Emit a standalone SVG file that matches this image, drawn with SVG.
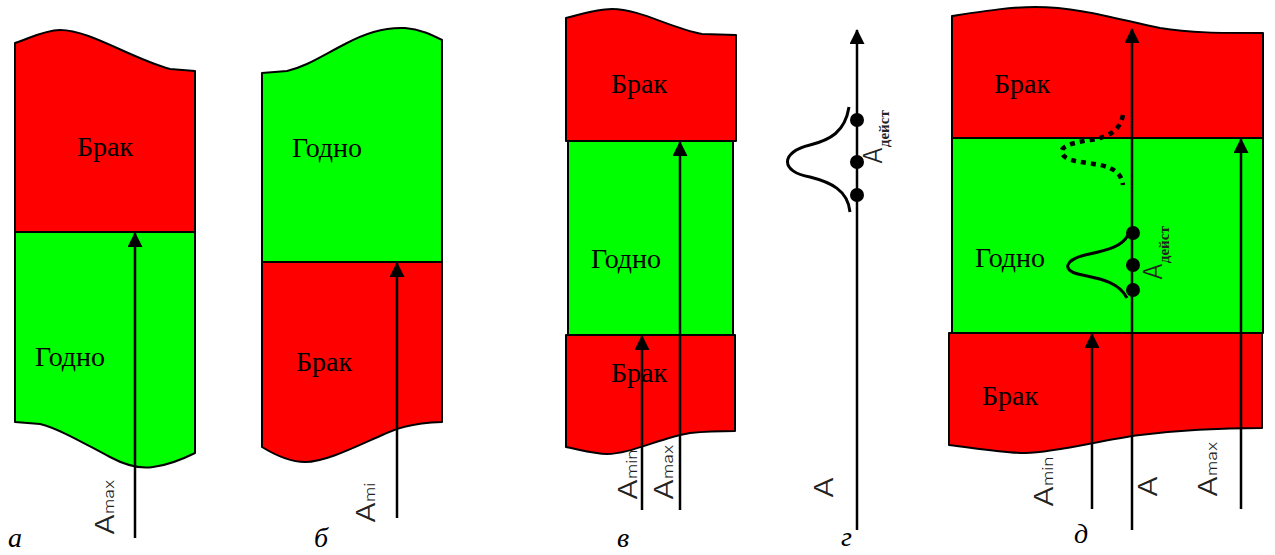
<svg xmlns="http://www.w3.org/2000/svg" width="1275" height="555" viewBox="0 0 1275 555">
<style>
.red{fill:#ff0000;stroke:#000;stroke-width:2;stroke-linejoin:round}
.grn{fill:#00ff00;stroke:#000;stroke-width:2;stroke-linejoin:round}
.zt{font-family:"Liberation Serif","Times New Roman",serif;font-size:28px;fill:#000;text-anchor:middle}
.pl{font-family:"Liberation Serif","Times New Roman",serif;font-size:28px;font-style:italic;fill:#000}
.ax{font-family:Inter,"Liberation Sans",Arial,sans-serif;font-weight:300;font-size:25px;fill:#222}
.sub{font-size:14px}
.act{font-family:"Liberation Serif","Times New Roman",serif;font-size:15px;font-weight:bold}
.arr{stroke:#000;stroke-width:2.5;fill:none;marker-end:url(#ah)}
.bell{stroke:#000;stroke-width:3;fill:none}
.dot{fill:#000}
</style>
<defs>
<marker id="ah" viewBox="0 0 15 15" markerWidth="15" markerHeight="15" refX="14" refY="7.5" orient="auto" markerUnits="userSpaceOnUse">
<path d="M0,0 L15,7.5 L0,15 Z" fill="#000"/>
</marker>
</defs>

<g id="labels">
<text class="ax" transform="translate(114,535) rotate(-90) scale(1.25,1)">A<tspan class="sub">max</tspan></text>
<text class="ax" transform="translate(375,523) rotate(-90) scale(1.25,1)">A<tspan class="sub">mi</tspan></text>
<text class="ax" transform="translate(637,500) rotate(-90) scale(1.25,1)">A<tspan class="sub">min</tspan></text>
<text class="ax" transform="translate(673,500) rotate(-90) scale(1.25,1)">A<tspan class="sub">max</tspan></text>
<text class="ax" transform="translate(833,498) rotate(-90) scale(1.25,1)">A</text>
<text class="ax" transform="translate(1053,507) rotate(-90) scale(1.25,1)">A<tspan class="sub">min</tspan></text>
<text class="ax" transform="translate(1157,497) rotate(-90) scale(1.25,1)">A</text>
<text class="ax" transform="translate(1217,497) rotate(-90) scale(1.25,1)">A<tspan class="sub">max</tspan></text>
<text class="pl" x="8" y="547">а</text>
<text class="pl" x="314" y="547">б</text>
<text class="pl" x="617" y="547">в</text>
<text class="pl" x="841" y="546">г</text>
<text class="pl" x="1074" y="543">д</text>
</g>

<g id="panel-a">
<path class="red" d="M15,43 C30,38 45,30 60,30 C90,30 130,58 170,69 L195,71 L195,232 L15,232 Z"/>
<path class="grn" d="M15,232 L195,232 L195,453 C185,458 170,465 153,467 C140,469 125,465 110,457 C85,444 60,429 40,424 L15,422 Z"/>
<text class="zt" x="105" y="156">Брак</text>
<text class="zt" x="70" y="366">Годно</text>
</g>

<g id="panel-b">
<path class="grn" d="M262,73 L287,71 C305,67 320,57 345,44 C365,33 385,27 405,28 C420,29 432,35 442,40 L442,262 L262,262 Z"/>
<path class="red" d="M262,262 L442,262 L442,422 C410,423 395,429 380,436 C355,447 325,462 305,462 C290,462 275,455 262,447 Z"/>
<text class="zt" x="327" y="157">Годно</text>
<text class="zt" x="324" y="371">Брак</text>
</g>

<g id="panel-v">
<path class="grn" d="M568,141 L733,141 L733,335 L568,335 Z"/>
<path class="red" d="M566,18 C585,13 598,9 612,9 C640,9 670,28 702,34 L736,35 L736,141 L566,141 Z"/>
<path class="red" d="M566,335 L735,335 L735,431 C720,431 710,431 690,433 C660,438 630,454 607,454 C595,454 585,451 566,447 Z"/>
<text class="zt" x="639" y="93">Брак</text>
<text class="zt" x="626" y="268">Годно</text>
<text class="zt" x="639" y="382">Брак</text>
</g>

<g id="panel-g">
<path class="bell" d="M849,107 C845,132 830,140 810,145 C780,152 780,172 810,177 C830,182 848,190 850,212"/>
<circle class="dot" cx="857" cy="120" r="7"/>
<circle class="dot" cx="857" cy="162" r="7"/>
<circle class="dot" cx="857" cy="195" r="7"/>
<text class="ax" transform="translate(882,164) rotate(-90)" font-size="20">A<tspan class="act" dy="7">дейст</tspan></text>
</g>

<g id="panel-d">
<path class="grn" d="M952,138 L1263,138 L1263,333 L952,333 Z"/>
<path class="red" d="M952,16 C985,11 1010,7 1035,7 C1080,7 1120,20 1160,28 C1190,33 1220,33 1263,33 L1263,138 L952,138 Z"/>
<path class="red" d="M949,333 L1262,333 L1262,428 C1220,428 1180,430 1140,435 C1100,440 1060,452 1025,453 C1005,453 975,448 949,445 Z"/>
<text class="zt" x="1022" y="93">Брак</text>
<text class="zt" x="1010" y="267">Годно</text>
<text class="zt" x="1010" y="405">Брак</text>
<path d="M1123,115 C1120,130 1110,137 1090,140 C1070,143 1060,147 1062,153 C1065,162 1085,162 1100,165 C1115,168 1122,175 1123,185" fill="none" stroke="#000" stroke-width="4.5" stroke-dasharray="5,5"/>
<path class="bell" d="M1128,235 C1122,247 1107,250 1085,255 C1065,260 1062,270 1078,274 C1095,278 1118,280 1127,298"/>
<circle class="dot" cx="1133" cy="233" r="7"/>
<circle class="dot" cx="1133" cy="265" r="7"/>
<circle class="dot" cx="1133" cy="290" r="7"/>
<text class="ax" transform="translate(1162,280) rotate(-90)" font-size="22">A<tspan class="act" dy="7">дейст</tspan></text>
</g>

<g id="connectors">
<line class="arr" x1="135" y1="538" x2="135" y2="233"/>
<line class="arr" x1="397" y1="518" x2="397" y2="263"/>
<line class="arr" x1="642" y1="510" x2="642" y2="336"/>
<line class="arr" x1="680" y1="510" x2="680" y2="142"/>
<line class="arr" x1="857" y1="530" x2="857" y2="30"/>
<line class="arr" x1="1092" y1="509" x2="1092" y2="334"/>
<line class="arr" x1="1132" y1="530" x2="1132" y2="29"/>
<line class="arr" x1="1241" y1="509" x2="1241" y2="139"/>
</g>
</svg>
